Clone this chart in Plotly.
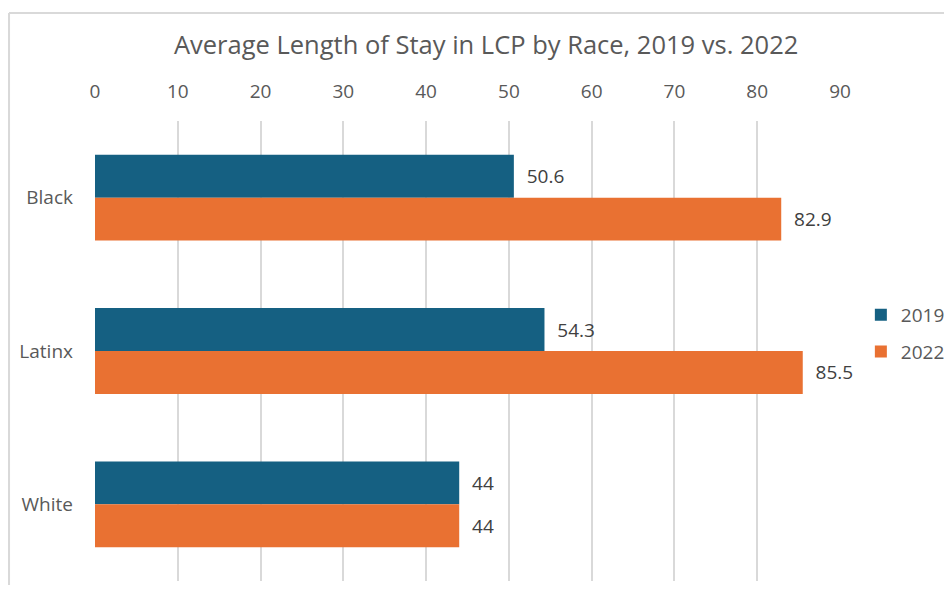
import plotly.graph_objects as go

categories = ["Black", "Latinx", "White"]
values_2019 = [50.6, 54.3, 44]
values_2022 = [82.9, 85.5, 44]
series_names = ["2019", "2022"]
tick_values = [0, 10, 20, 30, 40, 50, 60, 70, 80, 90]

colors = ["#156082", "#E97132"]
text_color = "#595959"
font_family = "Open Sans, Liberation Sans, sans-serif"

fig = go.Figure()
for name, vals, col in zip(series_names, [values_2019, values_2022], colors):
    fig.add_trace(go.Bar(
        y=categories, x=vals, name=name, orientation="h",
        legendgroup=name,
        marker=dict(color=col, line=dict(width=0)),
        text=["\u00a0\u00a0" + f"{v:g}" for v in vals], textposition="outside",
        textfont=dict(size=19, color="#404040", family=font_family),
        cliponaxis=False,
    ))

fig.update_layout(
    width=936, height=577,
    margin=dict(l=87, r=104, t=113, b=4, autoexpand=False),
    paper_bgcolor="white", plot_bgcolor="white",
    barmode="group", bargap=0.44, bargroupgap=0,
    font=dict(family=font_family, color=text_color, size=19),
    title=dict(text="Average Length of Stay in LCP by Race, 2019 vs. 2022",
               x=0.525, xref="paper", xanchor="center",
               y=1 - 37 / 577, yref="container", yanchor="middle",
               font=dict(size=25.5, color=text_color, family=font_family)),
    xaxis=dict(side="top", range=[0, 90], tickvals=tick_values,
               showgrid=True, gridcolor="#D9D9D9", gridwidth=1.5,
               zeroline=False, showline=False, ticks="",
               tickfont=dict(size=19, color=text_color), ticklabelstandoff=18),
    yaxis=dict(autorange="reversed", showgrid=False, showline=False, ticks="",
               tickfont=dict(size=19, color=text_color), ticklabelstandoff=21),
    legend=dict(x=1.028, y=0.538, xanchor="left", yanchor="middle",
                traceorder="grouped", font=dict(size=19, color=text_color),
                tracegroupgap=9, itemwidth=30),
    showlegend=True,
    shapes=[
        dict(type="line", xref="paper", yref="paper", x0=-0.1154, x1=1.2,
             y0=1.2348, y1=1.2348, line=dict(color="#D9D9D9", width=2)),
        dict(type="line", xref="paper", yref="paper", x0=-0.1154, x1=-0.1154,
             y0=1.2348, y1=-0.05, line=dict(color="#D9D9D9", width=2)),
    ],
)

fig.write_html("out.html")
